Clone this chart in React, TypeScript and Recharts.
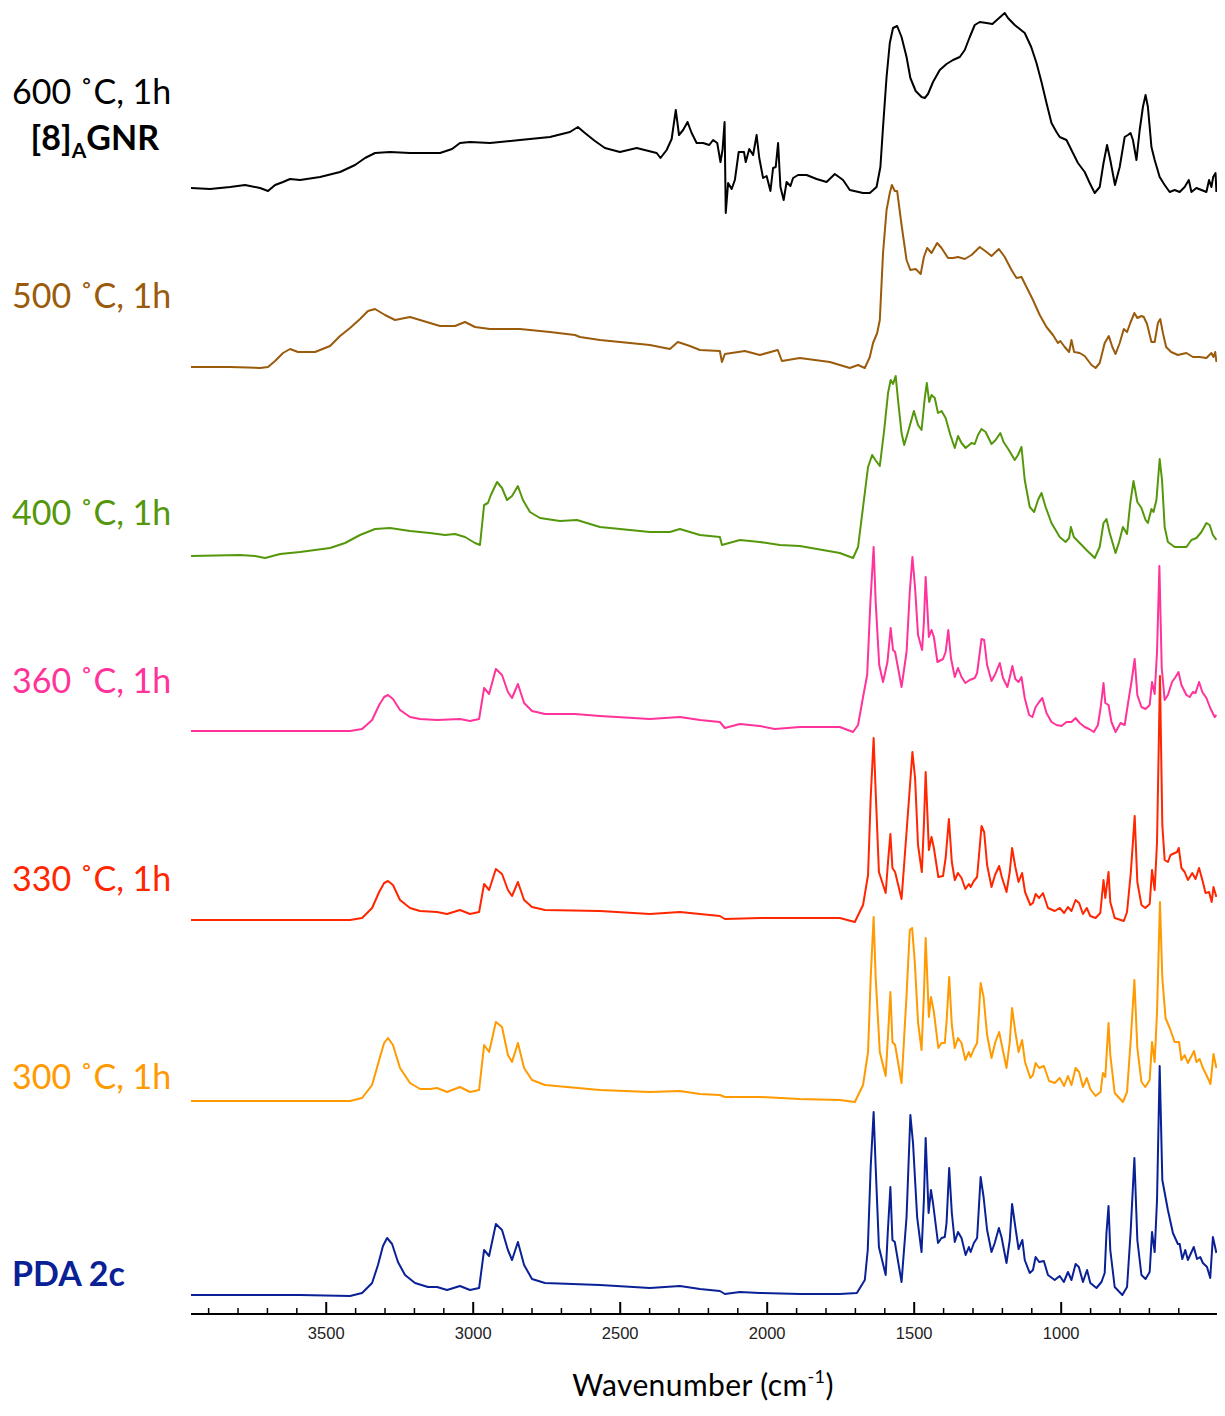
import React from "react";
import { LineChart, Line, XAxis, YAxis } from "recharts";

// wavenumber axis
const wnDomain: [number, number] = [470, 3960];
const wnTicks = [3900, 3800, 3700, 3600, 3500, 3400, 3300, 3200, 3100, 3000, 2900, 2800, 2700, 2600, 2500, 2400, 2300, 2200, 2100, 2000, 1900, 1800, 1700, 1600, 1500, 1400, 1300, 1200, 1100, 1000, 900, 800, 700, 600];
const majorTicks = [3500, 3000, 2500, 2000, 1500, 1000];

// spectra: [wavenumber (cm-1), absorbance (a.u., above own baseline)]
const spec600: [number, number][] = [
  [3960, 0], [3895, -1], [3827, 1], [3776, 3], [3725, 0], [3698, -3], [3674, 3], [3647, 6], [3623, 9], [3589, 8],
  [3521, 11], [3453, 16], [3402, 23], [3368, 30], [3334, 35], [3283, 36], [3215, 35], [3113, 35], [3072, 39], [3045, 45],
  [3011, 46], [2943, 45], [2841, 48], [2739, 51], [2671, 56], [2644, 61], [2620, 55], [2586, 47], [2552, 40], [2501, 36],
  [2444, 40], [2376, 35], [2363, 30], [2342, 38], [2325, 49], [2311, 78], [2300, 53], [2286, 58], [2271, 66], [2257, 55],
  [2240, 45], [2218, 45], [2197, 43], [2184, 48], [2170, 45], [2159, 26], [2152, 38], [2145, 66], [2141, -25], [2133, 5],
  [2121, -1], [2110, 8], [2097, 36], [2079, 36], [2073, 26], [2061, 39], [2048, 33], [2036, 53], [2027, 30], [2014, 10],
  [2002, 12], [1989, -3], [1980, 20], [1971, 21], [1963, 45], [1955, 1], [1944, -12], [1934, 6], [1921, 2], [1912, 10],
  [1895, 13], [1866, 13], [1832, 9], [1798, 6], [1770, 14], [1742, 8], [1719, -2], [1674, -5], [1651, -5], [1628, 1],
  [1615, 21], [1606, 61], [1594, 111], [1583, 145], [1572, 160], [1558, 162], [1543, 151], [1526, 131], [1513, 110], [1495, 97],
  [1475, 91], [1464, 90], [1453, 94], [1436, 106], [1413, 118], [1390, 124], [1368, 128], [1345, 131], [1328, 138], [1311, 151],
  [1294, 163], [1277, 166], [1254, 165], [1234, 164], [1215, 169], [1192, 175], [1181, 170], [1158, 163], [1124, 155], [1102, 141],
  [1084, 125], [1067, 106], [1050, 85], [1033, 65], [1016, 56], [1005, 51], [982, 48], [960, 35], [943, 25], [920, 16],
  [903, 5], [886, -5], [869, 1], [856, 25], [844, 43], [833, 28], [817, 3], [801, 21], [784, 51], [773, 53],
  [764, 55], [756, 48], [744, 28], [733, 58], [722, 81], [713, 93], [705, 81], [693, 41], [682, 28], [665, 11],
  [648, 3], [631, -4], [614, -2], [597, -4], [580, 1], [566, 8], [557, -4], [540, 0], [523, -2], [506, -4],
  [497, 8], [489, 1], [483, 11], [475, 15], [472, -4],
];

const spec500: [number, number][] = [
  [3960, 0], [3827, 0], [3725, -1], [3698, 0], [3674, 6], [3647, 14], [3623, 18], [3596, 15], [3538, 15], [3487, 21],
  [3453, 31], [3419, 39], [3385, 48], [3358, 56], [3334, 58], [3300, 52], [3266, 47], [3215, 50], [3181, 47], [3113, 41],
  [3062, 41], [3028, 45], [2994, 40], [2943, 38], [2841, 38], [2739, 35], [2654, 32], [2637, 30], [2569, 27], [2399, 22],
  [2331, 18], [2304, 25], [2263, 21], [2229, 17], [2161, 16], [2154, 5], [2144, 13], [2076, 16], [2025, 12], [1964, 17],
  [1950, 6], [1889, 9], [1787, 5], [1719, -1], [1691, 2], [1668, -1], [1651, 10], [1640, 24], [1626, 34], [1617, 47],
  [1606, 114], [1594, 157], [1583, 174], [1576, 182], [1566, 176], [1558, 176], [1543, 142], [1526, 107], [1513, 97], [1495, 98],
  [1478, 93], [1467, 110], [1456, 119], [1441, 114], [1422, 124], [1407, 119], [1385, 109], [1368, 109], [1351, 110], [1328, 108],
  [1305, 112], [1277, 120], [1254, 115], [1237, 111], [1212, 118], [1192, 110], [1169, 97], [1152, 89], [1135, 90], [1118, 80],
  [1096, 67], [1073, 52], [1050, 40], [1028, 32], [1011, 24], [1003, 26], [988, 20], [973, 15], [965, 27], [956, 15],
  [937, 14], [920, 11], [897, 2], [883, -1], [869, 4], [852, 24], [838, 31], [826, 20], [815, 13], [801, 24],
  [787, 38], [776, 35], [765, 44], [751, 54], [741, 49], [727, 51], [719, 50], [708, 43], [693, 25], [682, 25],
  [671, 44], [663, 48], [654, 34], [643, 20], [626, 15], [603, 12], [574, 14], [552, 10], [529, 10], [506, 9],
  [489, 14], [482, 10], [476, 15], [472, 5],
];

const spec400: [number, number][] = [
  [3960, 0], [3793, 1], [3742, 0], [3708, -2], [3657, 2], [3589, 4], [3487, 8], [3436, 13], [3385, 21], [3334, 27],
  [3283, 28], [3215, 25], [3147, 23], [3096, 21], [3062, 22], [3028, 19], [2994, 13], [2977, 11], [2963, 51], [2950, 53],
  [2940, 61], [2919, 74], [2902, 68], [2885, 56], [2868, 60], [2848, 70], [2831, 56], [2807, 44], [2773, 38], [2705, 35],
  [2647, 36], [2569, 29], [2399, 24], [2331, 24], [2297, 27], [2229, 21], [2161, 19], [2154, 11], [2093, 16], [2025, 14],
  [1957, 11], [1889, 10], [1753, 3], [1708, -2], [1691, 9], [1674, 49], [1657, 89], [1643, 101], [1632, 96], [1617, 90],
  [1602, 126], [1589, 163], [1580, 176], [1572, 172], [1563, 180], [1555, 156], [1543, 123], [1534, 111], [1521, 124], [1501, 145],
  [1487, 131], [1475, 126], [1464, 158], [1457, 173], [1449, 154], [1441, 161], [1430, 158], [1419, 143], [1407, 145], [1393, 138],
  [1377, 121], [1362, 108], [1351, 120], [1339, 113], [1325, 108], [1305, 113], [1294, 112], [1283, 121], [1271, 127], [1257, 124],
  [1237, 112], [1223, 116], [1207, 123], [1196, 114], [1178, 106], [1158, 96], [1147, 101], [1135, 109], [1124, 76], [1107, 49],
  [1092, 44], [1079, 56], [1067, 63], [1053, 49], [1033, 33], [1005, 19], [985, 14], [973, 18], [967, 29], [957, 19],
  [937, 13], [914, 6], [886, -2], [869, 9], [856, 33], [846, 37], [835, 23], [815, 3], [803, 14], [790, 29],
  [776, 22], [765, 53], [754, 75], [741, 54], [727, 48], [713, 36], [705, 33], [693, 47], [686, 44], [676, 56],
  [665, 97], [657, 76], [648, 29], [637, 14], [614, 9], [597, 9], [574, 9], [557, 16], [540, 18], [523, 24],
  [506, 33], [495, 31], [484, 21], [472, 16],
];

const spec360: [number, number][] = [
  [3960, 0], [3419, 0], [3378, 2], [3344, 11], [3320, 26], [3303, 34], [3290, 36], [3273, 32], [3249, 21], [3215, 14],
  [3181, 12], [3123, 11], [3045, 12], [3011, 10], [2980, 12], [2963, 43], [2946, 37], [2923, 62], [2902, 56], [2882, 39],
  [2868, 33], [2848, 47], [2827, 28], [2800, 20], [2756, 17], [2654, 17], [2569, 15], [2399, 12], [2297, 14], [2229, 11],
  [2161, 9], [2144, 3], [2093, 7], [2025, 5], [1974, 2], [1889, 4], [1753, 4], [1708, -1], [1691, 6], [1674, 34],
  [1660, 56], [1649, 129], [1638, 184], [1631, 129], [1619, 66], [1606, 49], [1591, 69], [1580, 103], [1572, 81], [1565, 79],
  [1543, 44], [1526, 79], [1515, 139], [1506, 174], [1497, 143], [1487, 96], [1473, 81], [1467, 109], [1461, 154], [1450, 94],
  [1441, 101], [1433, 94], [1421, 69], [1402, 72], [1393, 79], [1384, 101], [1375, 73], [1362, 54], [1351, 63], [1339, 54],
  [1326, 48], [1311, 51], [1294, 53], [1286, 58], [1271, 92], [1262, 91], [1252, 66], [1237, 50], [1224, 57], [1209, 68],
  [1198, 53], [1183, 44], [1173, 56], [1166, 65], [1156, 52], [1145, 49], [1135, 54], [1124, 33], [1109, 16], [1098, 14],
  [1087, 24], [1075, 29], [1064, 33], [1050, 18], [1033, 9], [1016, 6], [999, 5], [982, 9], [965, 9], [951, 13],
  [937, 8], [920, 4], [905, 2], [889, -1], [875, 6], [866, 23], [856, 48], [850, 28], [839, 26], [829, 9],
  [815, -1], [798, 8], [784, 6], [772, 29], [761, 49], [750, 72], [741, 36], [727, 24], [713, 22], [699, 26],
  [691, 49], [682, 37], [674, 79], [666, 165], [658, 63], [648, 31], [637, 36], [623, 49], [611, 54], [601, 59],
  [591, 46], [574, 36], [563, 34], [552, 39], [543, 38], [531, 49], [520, 39], [506, 33], [493, 23], [478, 14],
  [472, 16],
];

const spec330: [number, number][] = [
  [3960, 0], [3419, 0], [3378, 2], [3344, 12], [3320, 28], [3303, 37], [3290, 39], [3273, 35], [3249, 20], [3215, 12],
  [3181, 9], [3123, 8], [3089, 6], [3045, 10], [3011, 6], [2980, 8], [2963, 36], [2946, 30], [2923, 51], [2902, 46],
  [2882, 30], [2868, 24], [2848, 38], [2827, 20], [2800, 13], [2756, 10], [2569, 9], [2399, 6], [2297, 8], [2229, 6],
  [2161, 4], [2144, 1], [2025, 2], [1889, 2], [1753, 2], [1702, -2], [1674, 15], [1657, 45], [1648, 122], [1638, 182],
  [1631, 128], [1620, 48], [1597, 27], [1588, 62], [1581, 86], [1574, 52], [1565, 48], [1543, 21], [1526, 88], [1506, 168],
  [1497, 142], [1487, 75], [1474, 48], [1467, 95], [1461, 148], [1450, 70], [1441, 83], [1433, 72], [1418, 43], [1402, 44],
  [1393, 62], [1382, 101], [1372, 58], [1362, 40], [1351, 47], [1339, 42], [1326, 31], [1314, 36], [1308, 33], [1297, 39],
  [1286, 43], [1271, 94], [1262, 88], [1252, 55], [1237, 33], [1225, 45], [1211, 54], [1202, 43], [1186, 28], [1175, 48],
  [1167, 72], [1156, 53], [1145, 38], [1133, 47], [1123, 28], [1105, 15], [1096, 17], [1087, 26], [1075, 22], [1062, 27],
  [1045, 12], [1022, 9], [1005, 12], [990, 7], [977, 13], [965, 9], [951, 20], [939, 17], [926, 6], [913, 12],
  [901, 4], [883, 2], [867, 7], [856, 40], [850, 22], [839, 48], [833, 18], [818, 2], [787, -1], [776, 8],
  [763, 48], [750, 104], [741, 38], [727, 15], [714, 12], [699, 16], [691, 50], [682, 30], [674, 78], [664, 244],
  [656, 95], [648, 60], [637, 58], [628, 65], [606, 68], [600, 72], [591, 52], [580, 48], [569, 40], [554, 47],
  [543, 41], [531, 52], [518, 38], [509, 27], [497, 28], [488, 18], [482, 33], [472, 23],
];

const spec300: [number, number][] = [
  [3960, 0], [3419, 0], [3378, 3], [3344, 16], [3320, 41], [3303, 58], [3290, 63], [3273, 56], [3249, 33], [3215, 18],
  [3181, 12], [3147, 12], [3123, 13], [3089, 9], [3045, 14], [3011, 9], [2980, 11], [2963, 56], [2946, 49], [2923, 79],
  [2902, 74], [2882, 46], [2868, 39], [2848, 58], [2827, 33], [2800, 21], [2756, 16], [2569, 11], [2399, 9], [2297, 10],
  [2229, 7], [2161, 6], [2144, 4], [2025, 4], [1889, 2], [1753, 1], [1702, -1], [1674, 16], [1657, 49], [1648, 123],
  [1638, 184], [1631, 123], [1617, 49], [1597, 25], [1589, 66], [1581, 109], [1574, 59], [1565, 56], [1543, 18], [1526, 106],
  [1515, 171], [1507, 173], [1498, 139], [1487, 79], [1475, 51], [1467, 106], [1461, 163], [1450, 84], [1443, 104], [1433, 89],
  [1418, 53], [1407, 58], [1396, 58], [1390, 79], [1381, 124], [1372, 76], [1362, 53], [1351, 63], [1339, 58], [1326, 41],
  [1314, 49], [1308, 44], [1297, 52], [1286, 58], [1274, 118], [1264, 104], [1252, 66], [1237, 43], [1224, 59], [1211, 69],
  [1202, 56], [1186, 33], [1175, 59], [1167, 93], [1156, 69], [1145, 49], [1133, 61], [1123, 39], [1105, 23], [1096, 26],
  [1087, 38], [1075, 33], [1059, 35], [1041, 20], [1022, 18], [1005, 23], [990, 15], [977, 25], [965, 16], [951, 33],
  [939, 29], [926, 14], [913, 23], [901, 12], [883, 5], [866, 9], [858, 28], [850, 24], [845, 49], [839, 78],
  [833, 46], [818, 8], [790, -1], [776, 9], [763, 63], [751, 121], [741, 53], [727, 19], [714, 14], [699, 21],
  [691, 59], [682, 39], [674, 89], [664, 199], [656, 123], [645, 83], [631, 73], [614, 59], [599, 59], [591, 41],
  [580, 46], [569, 38], [548, 50], [540, 39], [529, 42], [518, 33], [506, 26], [492, 17], [482, 47], [472, 33],
];

const specPDA: [number, number][] = [
  [3960, 0], [3589, 0], [3419, -1], [3378, 2], [3344, 12], [3324, 30], [3307, 49], [3293, 57], [3276, 51], [3256, 33],
  [3232, 20], [3198, 12], [3154, 8], [3123, 8], [3089, 5], [3045, 9], [3011, 5], [2980, 7], [2963, 45], [2946, 39],
  [2923, 71], [2902, 65], [2882, 45], [2868, 35], [2848, 53], [2827, 30], [2800, 16], [2756, 12], [2569, 10], [2399, 7],
  [2297, 9], [2229, 6], [2161, 4], [2144, 1], [2093, 3], [2025, 2], [1889, 1], [1753, 1], [1695, 2], [1668, 15],
  [1658, 45], [1648, 128], [1638, 183], [1631, 128], [1620, 48], [1597, 20], [1590, 62], [1581, 108], [1574, 55], [1566, 53],
  [1543, 13], [1526, 78], [1513, 180], [1504, 152], [1490, 78], [1475, 43], [1467, 95], [1461, 157], [1451, 82], [1443, 105],
  [1436, 92], [1419, 52], [1407, 57], [1396, 58], [1390, 72], [1381, 127], [1372, 82], [1362, 53], [1351, 63], [1339, 57],
  [1325, 40], [1314, 48], [1308, 43], [1297, 52], [1286, 57], [1274, 118], [1264, 98], [1252, 65], [1237, 43], [1226, 52],
  [1212, 67], [1203, 58], [1186, 32], [1175, 55], [1167, 91], [1156, 68], [1145, 46], [1132, 55], [1124, 35], [1107, 22],
  [1096, 25], [1087, 38], [1075, 33], [1059, 34], [1045, 20], [1022, 15], [1005, 19], [991, 13], [977, 23], [965, 15],
  [951, 31], [940, 28], [926, 13], [912, 25], [901, 12], [880, 7], [863, 13], [852, 22], [846, 62], [839, 89],
  [833, 45], [818, 8], [792, 0], [776, 8], [764, 62], [751, 137], [741, 55], [727, 20], [713, 16], [699, 23],
  [691, 63], [682, 43], [674, 95], [665, 229], [656, 115], [637, 85], [620, 62], [603, 51], [597, 51], [588, 36],
  [578, 45], [569, 35], [549, 48], [538, 36], [527, 38], [518, 32], [504, 28], [493, 17], [484, 58], [472, 42],
];

// stacking: each trace is lifted so the spectra don't overlap
const traces = [
  { key: "600", data: spec600, offset: 1126, color: "#000000" },
  { key: "500", data: spec500, offset: 947, color: "#9a5b0c" },
  { key: "400", data: spec400, offset: 758, color: "#55970b" },
  { key: "360", data: spec360, offset: 583, color: "#ff3399" },
  { key: "330", data: spec330, offset: 394, color: "#ff2600" },
  { key: "300", data: spec300, offset: 213, color: "#ff9a00" },
  { key: "pda", data: specPDA, offset: 19, color: "#0a2196" },
];

const labelFont = "Lato, 'Noto Sans', sans-serif";
const CHART_H = 1416;
const MARGIN_BOTTOM = 42;
const XAXIS_H = 60;
const PLOT_BOTTOM = CHART_H - MARGIN_BOTTOM - XAXIS_H;

// inward ticks drawn up from the axis line
function WnTick(props: any) {
  const { x, payload } = props;
  const major = majorTicks.includes(payload.value);
  return (
    <g>
      <line x1={x} x2={x} y1={PLOT_BOTTOM} y2={PLOT_BOTTOM - (major ? 12 : 6)} stroke="#000" strokeWidth={major ? 2 : 1.5} />
      {major && (
        <text x={x} y={PLOT_BOTTOM + 25} textAnchor="middle" fontSize={16.5} fontFamily="'Liberation Sans', Arial, sans-serif" fill="#222">
          {payload.value}
        </text>
      )}
    </g>
  );
}

export default function App() {
  return (
    <div style={{ position: "absolute", left: 0, top: 0, width: 1225, height: CHART_H, background: "#fff" }}>
      <LineChart width={1225} height={CHART_H} margin={{ top: 0, right: 8, bottom: MARGIN_BOTTOM, left: 191 }}>
        <XAxis
          type="number"
          dataKey="wn"
          domain={wnDomain}
          reversed
          allowDataOverflow
          ticks={wnTicks}
          interval={0}
          height={XAXIS_H}
          tickLine={false}
          tick={<WnTick />}
          axisLine={{ stroke: "#000", strokeWidth: 2 }}
        />
        <YAxis hide type="number" domain={[0, PLOT_BOTTOM]} allowDataOverflow />
        {traces.map((t) => (
          <Line
            key={t.key}
            data={t.data.map(([wn, a]) => ({ wn, y: t.offset + a }))}
            dataKey="y"
            type="linear"
            stroke={t.color}
            strokeWidth={2}
            strokeLinejoin="round"
            dot={false}
            activeDot={false}
            isAnimationActive={false}
          />
        ))}
      </LineChart>
      <svg width={1225} height={CHART_H} style={{ position: "absolute", left: 0, top: 0, pointerEvents: "none" }}>
        <g fontFamily={labelFont} fontSize={34}>
          <text x={12} y={104} fill="#000">600 ˚C, 1h</text>
          <text x={159} y={150} fill="#000" fontWeight={700} textAnchor="end">
            [8]<tspan fontSize={21} dy={8}>A</tspan><tspan dy={-8}>GNR</tspan>
          </text>
          <text x={12} y={308} fill="#9a5b0c">500 ˚C, 1h</text>
          <text x={12} y={525} fill="#55970b">400 ˚C, 1h</text>
          <text x={12} y={693} fill="#ff3399">360 ˚C, 1h</text>
          <text x={12} y={891} fill="#ff2600">330 ˚C, 1h</text>
          <text x={12} y={1089} fill="#ff9a00">300 ˚C, 1h</text>
          <text x={12} y={1286} fill="#0a2196" fontWeight={700}>PDA 2c</text>
        </g>
        <text x={703} y={1396} textAnchor="middle" fontFamily={labelFont} fontSize={30} letterSpacing={0.4} fill="#000">
          Wavenumber (cm<tspan fontSize={18} dy={-13}>-1</tspan><tspan dy={13}>)</tspan>
        </text>
      </svg>
    </div>
  );
}
